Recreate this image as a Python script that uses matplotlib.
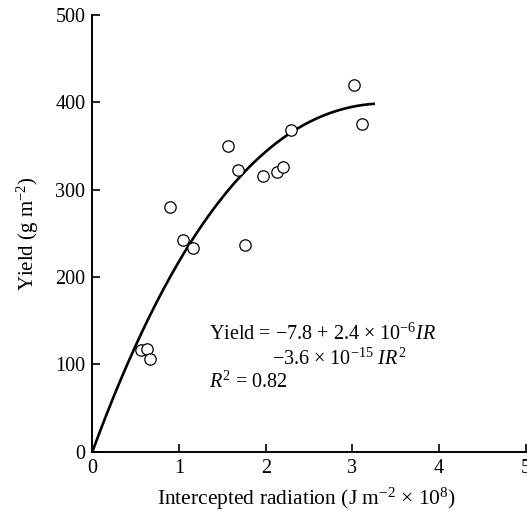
import numpy as np
import matplotlib
matplotlib.use("Agg")
import matplotlib.pyplot as plt

plt.rcParams['font.family'] = ['Liberation Serif', 'DejaVu Serif']
plt.rcParams['mathtext.fontset'] = 'custom'
plt.rcParams['mathtext.rm'] = 'Liberation Serif'
plt.rcParams['mathtext.it'] = 'Liberation Serif:italic'
plt.rcParams['mathtext.bf'] = 'Liberation Serif:bold'

# observed data (radiation x 1e8 J m-2, yield g m-2)
radiation = [0.56, 0.63, 0.66, 0.90, 1.05, 1.16, 1.57, 1.68, 1.76, 1.97, 2.13, 2.20, 2.29, 3.02, 3.11]
yield_obs = [116, 118, 106, 280, 242, 233, 350, 322, 236, 316, 320, 326, 368, 420, 375]

# fitted curve as drawn (polynomial coefficients, x in 1e8 units)
curve_coef = [3.04, -55.3, 270.1, 0.0]
curve_xmax = 3.26

xticks = [0, 1, 2, 3, 4, 5]
yticks = [0, 100, 200, 300, 400, 500]

fig = plt.figure(figsize=(5.27, 5.13), dpi=100)
ax = fig.add_axes([0.1753, 0.1195, 0.8224, 0.8518])

xc = np.linspace(0, curve_xmax, 200)
ax.plot(xc, np.polyval(curve_coef, xc), color='black', lw=1.9, zorder=2,
        solid_capstyle='butt')
ax.plot(radiation, yield_obs, linestyle='none', marker='o', ms=8.2,
        mfc='white', mec='black', mew=0.9, zorder=3)

ax.set_xlim(0, 5)
ax.set_ylim(0, 500)
ax.set_xticks(xticks)
ax.set_yticks(yticks)
for s in ['top', 'right']:
    ax.spines[s].set_visible(False)
for s in ['left', 'bottom']:
    ax.spines[s].set_linewidth(1.4)
ax.tick_params(direction='in', length=6, width=1.2, labelsize=14.5, pad=5)

ax.set_xlabel(r'Intercepted radiation (J m$^{-2}$ $\times$ 10$^{8}$)', fontsize=15.5, labelpad=6)
ax.xaxis.set_label_coords(0.495, -0.077)
ax.set_ylabel(r'Yield (g m$^{-2}$)', fontsize=15, labelpad=10)

ax.text(1.34, 128, r'Yield = $-$7.8 + 2.4 $\times$ 10$^{-6}$$\mathit{IR}$', fontsize=14.5)
ax.text(2.07, 99, r'$-$3.6 $\times$ 10$^{-15}$ $\mathit{IR}^{2}$', fontsize=14.5)
ax.text(1.34, 73, r'$\mathit{R}^{2}$ = 0.82', fontsize=14.5)

fig.savefig('out.png', dpi=100)
